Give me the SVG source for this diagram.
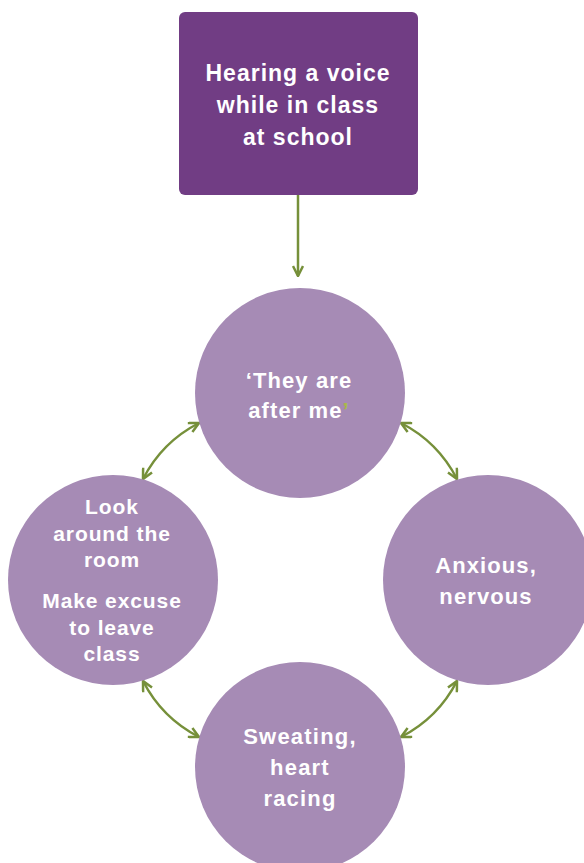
<svg xmlns="http://www.w3.org/2000/svg" width="584" height="863" viewBox="0 0 584 863">
<style>
.t{font-family:"Liberation Sans",Arial,sans-serif;font-weight:bold;fill:#fff;text-anchor:middle}
.c{fill:#a68bb5}
.con{fill:none;stroke:#76903a;stroke-width:2.5}
</style>
<defs>
<marker id="ah" viewBox="0 0 12 12" refX="11" refY="6" markerWidth="12" markerHeight="12" markerUnits="userSpaceOnUse" orient="auto-start-reverse">
<path d="M1,1 L11,6 L1,11" fill="none" stroke="#76903a" stroke-width="2.5"/>
</marker>
</defs>
<rect width="584" height="863" fill="#fff"/>
<g id="connectors">
<path class="con" d="M298,195 L298,276" marker-end="url(#ah)"/>
<path class="con" d="M199,423 Q162,442 143,479" marker-start="url(#ah)" marker-end="url(#ah)"/>
<path class="con" d="M401,423 Q438,442 457,479" marker-start="url(#ah)" marker-end="url(#ah)"/>
<path class="con" d="M143,681 Q162,718 199,737" marker-start="url(#ah)" marker-end="url(#ah)"/>
<path class="con" d="M457,681 Q438,718 401,737" marker-start="url(#ah)" marker-end="url(#ah)"/>
</g>
<g id="start">
<rect x="179" y="12" width="239" height="183" rx="6" fill="#713d84"/>
<text class="t" font-size="23" letter-spacing="1"><tspan x="298" y="81">Hearing a voice</tspan><tspan x="298" y="113">while in class</tspan><tspan x="298" y="145">at school</tspan></text>
</g>
<g id="thought">
<circle class="c" cx="300" cy="393" r="105"/>
<text class="t" font-size="22" letter-spacing="1.1"><tspan x="299" y="388">‘They are</tspan><tspan x="299" y="418">after me<tspan fill="#a8b84a">’</tspan></tspan></text>
</g>
<g id="feeling">
<circle class="c" cx="488" cy="580" r="105"/>
<text class="t" font-size="22" letter-spacing="1.1"><tspan x="486" y="573">Anxious,</tspan><tspan x="486" y="604">nervous</tspan></text>
</g>
<g id="body">
<circle class="c" cx="300" cy="767" r="105"/>
<text class="t" font-size="22" letter-spacing="1.2"><tspan x="300" y="744">Sweating,</tspan><tspan x="300" y="775">heart</tspan><tspan x="300" y="806">racing</tspan></text>
</g>
<g id="behaviour">
<circle class="c" cx="113" cy="580" r="105"/>
<text class="t" font-size="21" letter-spacing="0.9"><tspan x="112" y="514">Look</tspan><tspan x="112" y="541">around the</tspan><tspan x="112" y="567">room</tspan><tspan x="112" y="608">Make excuse</tspan><tspan x="112" y="635">to leave</tspan><tspan x="112" y="661">class</tspan></text>
</g>
</svg>
